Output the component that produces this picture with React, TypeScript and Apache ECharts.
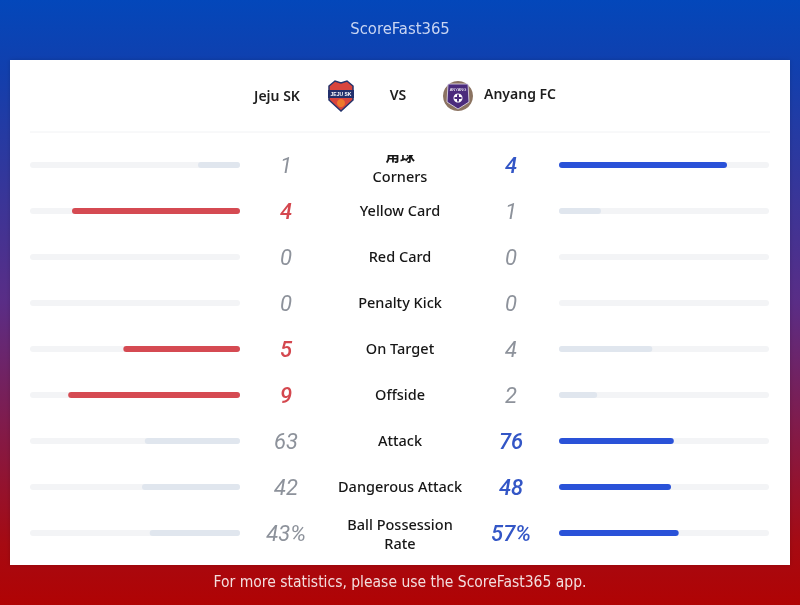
import React, { useEffect, useRef } from "react";
import * as echarts from "echarts";

const categories = [
  "Corners",
  "Yellow Card",
  "Red Card",
  "Penalty Kick",
  "On Target",
  "Offside",
  "Attack",
  "Dangerous Attack",
  "Ball Possession Rate",
];
const homeValues = [1, 4, 0, 0, 5, 9, 63, 42, 43];
const awayValues = [4, 1, 0, 0, 4, 2, 76, 48, 57];
const suffixes = ["", "", "", "", "", "", "", "", "%"];
const homeTeam = "Jeju SK";
const awayTeam = "Anyang FC";
const title = "ScoreFast365";
const footer = "For more statistics, please use the ScoreFast365 app.";

const RED = "#d54a52";
const BLUE = "#2a52d8";
const LIGHT = "#e0e6ee";
const TRACK = "#f3f4f6";

export default function App() {
  const ref = useRef<HTMLDivElement>(null);
  useEffect(() => {
    if (!ref.current) return;
    const chart = echarts.init(ref.current, undefined, { renderer: "svg" });
    const ratio = (a: number, b: number) => (a + b === 0 ? 0 : a / (a + b));
    const homeData = homeValues.map((h, i) => ({
      value: ratio(h, awayValues[i]),
      itemStyle: { color: h > awayValues[i] ? RED : LIGHT },
    }));
    const awayData = awayValues.map((a, i) => ({
      value: ratio(a, homeValues[i]),
      itemStyle: { color: a > homeValues[i] ? BLUE : LIGHT },
    }));
    const numFont = { fontFamily: "Roboto", fontStyle: "italic", fontSize: 22 };
    const top = 142;
    const height = 414;
    const hidden = { show: false };
    const labFont = { fontFamily: "'Noto Sans'", fontSize: 14.5, fontWeight: 500, color: "#161616", align: "center" };
    chart.setOption({
      animation: false,
      graphic: [
        {
          type: "rect",
          z: -10,
          shape: { x: 0, y: 0, width: 800, height: 605 },
          style: {
            fill: new echarts.graphic.LinearGradient(0, 0, 0, 1, [
              { offset: 0, color: "#0347ba" },
              { offset: 0.12, color: "#123fad" },
              { offset: 0.5, color: "#5a2d86" },
              { offset: 0.9, color: "#a60a12" },
              { offset: 1, color: "#b00304" },
            ]),
          },
        },
        {
          type: "rect",
          z: -9,
          shape: { x: 10, y: 60, width: 780, height: 505 },
          style: { fill: "#ffffff", shadowBlur: 4, shadowColor: "rgba(0,0,0,0.15)" },
        },
        {
          type: "text",
          x: 400,
          y: 28,
          style: {
            text: title,
            fill: "#c9d5f2",
            fontSize: 16.5,
            fontFamily: "'DejaVu Sans Condensed', 'DejaVu Sans'",
            align: "center",
            verticalAlign: "middle",
          },
        },
        {
          type: "text",
          x: 400,
          y: 582,
          style: {
            text: footer,
            fill: "#f3dede",
            fontSize: 15.5,
            fontFamily: "'DejaVu Sans Condensed', 'DejaVu Sans'",
            align: "center",
            verticalAlign: "middle",
          },
        },
        {
          type: "line",
          shape: { x1: 30, y1: 132, x2: 770, y2: 132 },
          style: { stroke: "#f1f2f4", lineWidth: 1 },
        },
        {
          type: "text",
          x: 277,
          y: 95,
          style: {
            text: homeTeam,
            fill: "#1e1e1e",
            fontSize: 14,
            fontWeight: 600,
            fontFamily: "'Noto Sans'",
            align: "center",
            verticalAlign: "middle",
          },
        },
        {
          type: "text",
          x: 398,
          y: 94,
          style: {
            text: "VS",
            fill: "#1e1e1e",
            fontSize: 14,
            fontWeight: 600,
            fontFamily: "'Noto Sans'",
            align: "center",
            verticalAlign: "middle",
          },
        },
        {
          type: "text",
          x: 484,
          y: 93,
          style: {
            text: awayTeam,
            fill: "#1e1e1e",
            fontSize: 14,
            fontWeight: 600,
            fontFamily: "'Noto Sans'",
            align: "left",
            verticalAlign: "middle",
          },
        },
        // Jeju SK logo
        {
          type: "group",
          x: 341,
          y: 96,
          children: [
            {
              type: "polygon",
              shape: { points: [[-12, -10], [-6, -15], [0, -13], [6, -15], [12, -10], [12, 4], [0, 15], [-12, 4]] },
              style: { fill: "#d9453d", stroke: "#24336b", lineWidth: 1.5 },
            },
            {
              type: "rect",
              shape: { x: -13, y: -6, width: 26, height: 8 },
              style: { fill: "#22306c" },
            },
            {
              type: "text",
              x: 0,
              y: -2,
              style: { text: "JEJU SK", fill: "#fff", fontSize: 5, fontWeight: 700, align: "center", verticalAlign: "middle" },
            },
            {
              type: "circle",
              shape: { cx: 0, cy: 7, r: 4 },
              style: { fill: "#ee7a2c" },
            },
          ],
        },
        // Anyang FC logo
        {
          type: "group",
          x: 458,
          y: 96,
          children: [
            {
              type: "circle",
              shape: { cx: 0, cy: 0, r: 15 },
              style: { fill: "#8b7361" },
            },
            {
              type: "polygon",
              shape: { points: [[-10, -12], [10, -12], [11, 6], [0, 13], [-11, 6]] },
              style: { fill: "#4b2b7c", stroke: "#e9e2f2", lineWidth: 0.8 },
            },
            {
              type: "circle",
              shape: { cx: 0, cy: 2, r: 4.5 },
              style: { fill: "#ffffff" },
            },
            {
              type: "rect",
              shape: { x: -1, y: -1.5, width: 2, height: 7 },
              style: { fill: "#4b2b7c" },
            },
            {
              type: "rect",
              shape: { x: -3.5, y: 1, width: 7, height: 2 },
              style: { fill: "#4b2b7c" },
            },
            {
              type: "text",
              x: 0,
              y: -7,
              style: { text: "ANYANG", fill: "#fff", fontSize: 4, align: "center", verticalAlign: "middle" },
            },
          ],
        },
        {
          type: "rect",
          z: 100,
          shape: { x: 376, y: 138, width: 48, height: 17 },
          style: { fill: "#ffffff" },
        },
      ],
      grid: [
        { left: 30, width: 210, top, height },
        { left: 559, width: 210, top, height },
        { left: 400, width: 1, top, height },
      ],
      xAxis: [
        { gridIndex: 0, type: "value", min: 0, max: 1, inverse: true, show: false },
        { gridIndex: 1, type: "value", min: 0, max: 1, show: false },
        { gridIndex: 2, type: "value", min: 0, max: 1, show: false },
      ],
      yAxis: [
        {
          gridIndex: 0,
          type: "category",
          data: categories,
          inverse: true,
          position: "right",
          axisLine: hidden,
          axisTick: hidden,
          splitLine: hidden,
          axisLabel: {
            margin: 46,
            align: "center",
            formatter: (_v: string, i: number) => {
              const h = homeValues[i];
              const cls = h > awayValues[i] ? "win" : "lose";
              return `{${cls}|${h}${suffixes[i]}}`;
            },
            rich: {
              win: { ...numFont, color: "#d4474e", fontWeight: 500 },
              lose: { ...numFont, color: "#8d929b", fontWeight: 400 },
            },
          },
        },
        {
          gridIndex: 1,
          type: "category",
          data: categories,
          inverse: true,
          position: "left",
          axisLine: hidden,
          axisTick: hidden,
          splitLine: hidden,
          axisLabel: {
            margin: 48,
            align: "center",
            formatter: (_v: string, i: number) => {
              const a = awayValues[i];
              const cls = a > homeValues[i] ? "win" : "lose";
              return `{${cls}|${a}${suffixes[i]}}`;
            },
            rich: {
              win: { ...numFont, color: "#3356c6", fontWeight: 500 },
              lose: { ...numFont, color: "#8d929b", fontWeight: 400 },
            },
          },
        },
        {
          gridIndex: 2,
          type: "category",
          data: categories,
          inverse: true,
          position: "left",
          axisLine: hidden,
          axisTick: hidden,
          splitLine: hidden,
          axisLabel: {
            margin: 0,
            align: "center",
            interval: 0,
            formatter: (v: string) => {
              if (v === "Corners") return `{cjk|角球}\n{lab2|${v}}`;
              if (v === "Ball Possession Rate") return `{lab|Ball Possession}\n{lab|Rate}`;
              return `{lab1|${v}}`;
            },
            rich: {
              lab: { ...labFont, lineHeight: 19 },
              lab1: { ...labFont, lineHeight: 18, padding: [0, 0, 2, 0] },
              lab2: { ...labFont, lineHeight: 22 },
              cjk: { fontFamily: "'Noto Sans CJK SC'", fontSize: 15, fontWeight: 700, color: "#161616", lineHeight: 22, align: "center" },
            },
          },
        },
      ],
      series: [
        {
          type: "bar",
          xAxisIndex: 0,
          yAxisIndex: 0,
          data: homeData,
          barWidth: 6,
          showBackground: true,
          backgroundStyle: { color: TRACK, borderRadius: 3 },
          itemStyle: { borderRadius: 3 },
        },
        {
          type: "bar",
          xAxisIndex: 1,
          yAxisIndex: 1,
          data: awayData,
          barWidth: 6,
          showBackground: true,
          backgroundStyle: { color: TRACK, borderRadius: 3 },
          itemStyle: { borderRadius: 3 },
        },
      ],
    });
    return () => chart.dispose();
  }, []);
  return (
    <div
      ref={ref}
      style={{ position: "fixed", left: 0, top: 0, width: 800, height: 605 }}
    />
  );
}
